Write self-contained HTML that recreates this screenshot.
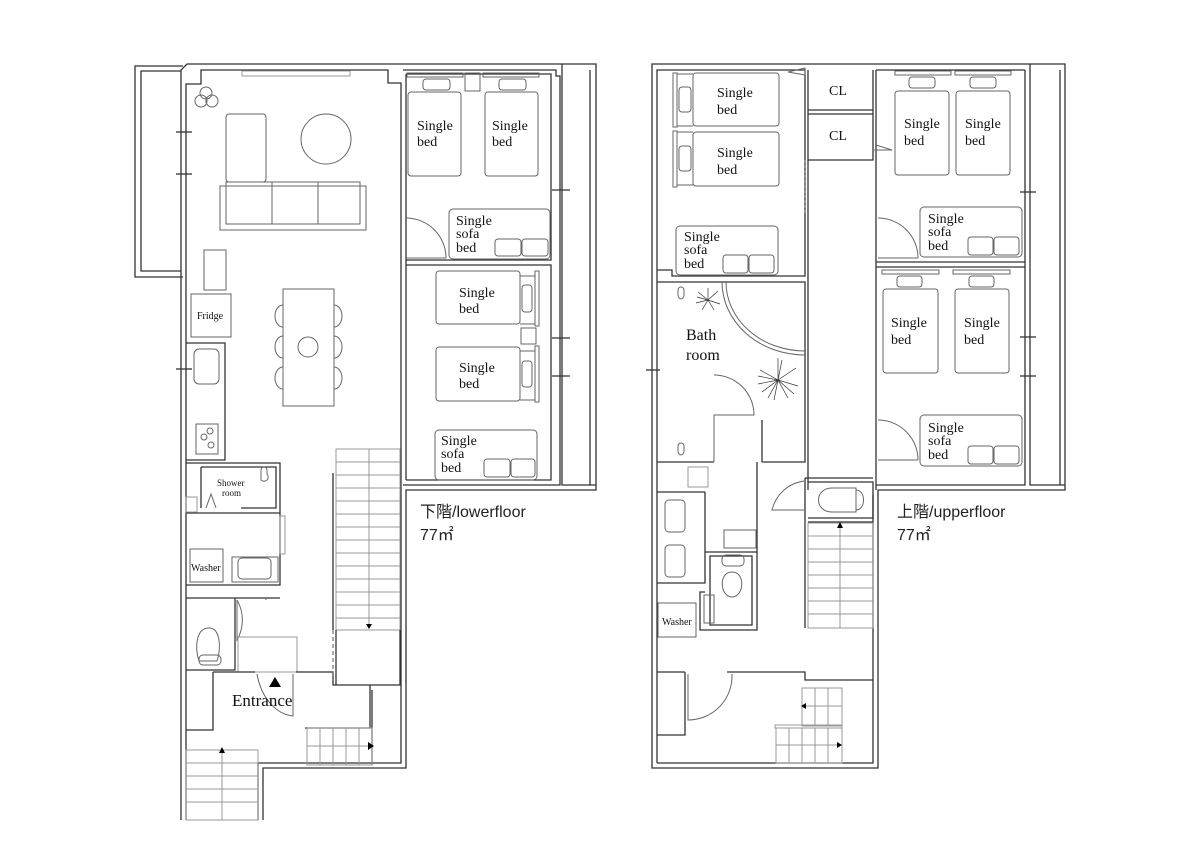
<!DOCTYPE html>
<html><head><meta charset="utf-8"><style>
html,body{margin:0;padding:0;background:#fff}
svg{display:block}
.w{fill:none;stroke:#333;stroke-width:1.3}
.f{fill:none;stroke:#666;stroke-width:1}
.g{fill:none;stroke:#999;stroke-width:1}
text{font-family:"Liberation Serif",serif;fill:#111}
.s{font-family:"Liberation Sans","Noto Sans CJK JP",sans-serif;font-size:16px;fill:#222}
</style></head><body>
<svg width="1200" height="849" viewBox="0 0 1200 849" xmlns="http://www.w3.org/2000/svg">
<!-- ================= LOWER FLOOR ================= -->
<!-- left balcony -->
<path class="w" d="M183,66 L135,66 L135,277 L183,277"/>
<path class="w" d="M181,71 L141,71 L141,271 L181,271"/>
<!-- outer -->
<path class="w" d="M181,820 L181,70 L187,64 L596,64 L596,490 L406,490 L406,768 L263,768 L263,820"/>
<path class="w" d="M186,820 L186,84 L201,84 L201,70 L388,70 L388,83 L401,83 L401,685"/>
<path class="w" d="M258,820 L258,763 L401,763 L401,685"/>
<!-- right balcony -->
<path class="w" d="M562,64 L562,485 L596,485"/>
<path class="w" d="M590,70 L590,485"/>
<!-- bedroom walls -->
<path class="w" d="M403,70 L556,70 L556,76 L560,76 L560,485 L403,485"/>
<path class="w" d="M406,74 L551,74 L551,260 L406,260 M406,265 L551,265 L551,480 L406,480"/>
<path class="w" d="M406,74 L406,480"/>
<line class="w" x1="552" y1="190" x2="570" y2="190"/>
<line class="w" x1="552" y1="338" x2="570" y2="338"/>
<line class="w" x1="552" y1="376" x2="570" y2="376"/>
<line class="w" x1="176" y1="132" x2="192" y2="132"/>
<line class="w" x1="176" y1="174" x2="192" y2="174"/>
<line class="w" x1="176" y1="369" x2="192" y2="369"/>
<!-- living furniture -->
<rect class="g" x="242" y="71" width="108" height="5"/>
<circle class="f" cx="206" cy="93" r="6"/><circle class="f" cx="201" cy="101" r="6"/><circle class="f" cx="212" cy="101" r="6"/>
<rect class="f" x="226" y="114" width="40" height="68" rx="3"/>
<circle class="f" cx="326" cy="139" r="25"/>
<rect class="f" x="220" y="186" width="146" height="44"/>
<path class="f" d="M226,182 H360 V224 H226 Z M272,182 V224 M318,182 V224"/>
<rect class="f" x="204" y="250" width="22" height="40"/>
<rect class="f" x="191" y="294" width="40" height="43"/>
<text x="197" y="319" font-size="10">Fridge</text>
<path class="w" d="M186,343 H225 V460 H186"/>
<rect class="f" x="194" y="349" width="25" height="35" rx="5"/>
<rect class="f" x="196" y="424" width="22" height="30"/>
<circle class="f" cx="210" cy="431" r="3"/><circle class="f" cx="204" cy="437" r="3"/><circle class="f" cx="211" cy="445" r="3"/>
<rect class="f" x="283" y="289" width="51" height="117"/>
<circle class="f" cx="308" cy="347" r="10"/>
<path class="f" d="M283,305 a8,11 0 0 0 0,22 M283,336 a8,11 0 0 0 0,22 M283,367 a8,11 0 0 0 0,22 M334,305 a8,11 0 0 1 0,22 M334,336 a8,11 0 0 1 0,22 M334,367 a8,11 0 0 1 0,22"/>
<!-- bedroom 1 -->
<rect class="f" x="407" y="73" width="56" height="4"/><rect class="f" x="483" y="73" width="56" height="4"/>
<rect class="f" x="465" y="73" width="15" height="18"/>
<rect class="f" x="423" y="79" width="27" height="11" rx="3"/><rect class="f" x="499" y="79" width="27" height="11" rx="3"/>
<rect class="f" x="408" y="92" width="53" height="84" rx="3"/><rect class="f" x="485" y="92" width="53" height="84" rx="3"/>
<text x="417" y="130" font-size="14">Single</text><text x="417" y="146" font-size="14">bed</text>
<text x="492" y="130" font-size="14">Single</text><text x="492" y="146" font-size="14">bed</text>
<rect class="f" x="449" y="209" width="101" height="50" rx="4"/>
<rect class="f" x="495" y="239" width="26" height="17" rx="3"/><rect class="f" x="522" y="239" width="26" height="17" rx="3"/>
<text x="456" y="225" font-size="14">Single</text><text x="456" y="238" font-size="14">sofa</text><text x="456" y="252" font-size="14">bed</text>
<path class="f" d="M406,218 A40,40 0 0 1 446,258 M406,258 H446"/>
<!-- bedroom 2 -->
<rect class="f" x="436" y="271" width="84" height="53" rx="3"/><rect class="f" x="436" y="347" width="84" height="54" rx="3"/>
<path class="f" d="M520,276 H535 V324 H520 M520,351 H535 V400 H520"/>
<rect class="f" x="535" y="271" width="4" height="55"/><rect class="f" x="535" y="346" width="4" height="56"/>
<rect class="f" x="522" y="285" width="10" height="27" rx="3"/><rect class="f" x="522" y="361" width="10" height="26" rx="3"/>
<rect class="f" x="521" y="328" width="15" height="16"/>
<text x="459" y="297" font-size="14">Single</text><text x="459" y="313" font-size="14">bed</text>
<text x="459" y="372" font-size="14">Single</text><text x="459" y="388" font-size="14">bed</text>
<rect class="f" x="435" y="430" width="102" height="50" rx="4"/>
<rect class="f" x="484" y="459" width="26" height="18" rx="3"/><rect class="f" x="511" y="459" width="24" height="18" rx="3"/>
<text x="441" y="445" font-size="14">Single</text><text x="441" y="458" font-size="14">sofa</text><text x="441" y="472" font-size="14">bed</text>
<!-- shower / wash -->
<path class="w" d="M186,463 H280 V513 M201,467 H276 V508 H241 M201,467 V508 M186,513 H280 V585 H186"/>
<rect class="g" x="186" y="497" width="11" height="15"/>
<path class="f" d="M206,508 L211,494 L216,508"/>
<text x="217" y="486" font-size="9">Shower</text><text x="222" y="496" font-size="9">room</text>
<path class="f" d="M261,470 a3,3 0 0 1 6,0 v4 a4,4 0 0 1 -6,6 Z"/>
<rect class="f" x="190" y="549" width="33" height="33"/>
<text x="191" y="571" font-size="10">Washer</text>
<rect class="f" x="232" y="557" width="46" height="25"/><rect class="f" x="238" y="558" width="33" height="21" rx="4"/>
<rect class="g" x="280" y="516" width="5" height="38"/>
<!-- toilet -->
<path class="w" d="M186,598 H280 M186,670 H235 V598"/>
<path class="f" d="M237,600 A40,40 0 0 1 237,640 L237,600 M266,600 V598"/>
<path class="f" d="M209,628 c-14,0 -14,22 -10,33 h18 c4,-11 4,-33 -8,-33 Z"/>
<rect class="f" x="199" y="655" width="22" height="10" rx="4"/>
<rect class="g" x="238" y="637" width="59" height="35"/>
<!-- entrance -->
<path class="w" d="M213,672 H255 M296,672 H333 V685 H401 M213,672 V730 H186"/>
<path class="f" d="M257,674 A40,55 0 0 0 293,716 V674"/>
<polygon points="275,677 269,687 281,687" fill="#000"/>
<text x="232" y="706" font-size="17">Entrance</text>
<!-- main stair -->
<g class="g">
<rect x="336" y="449" width="64" height="181"/>
<line x1="369" y1="449" x2="369" y2="626"/>
<path d="M336,462H400M336,475H400M336,488H400M336,501H400M336,514H400M336,527H400M336,540H400M336,553H400M336,566H400M336,579H400M336,592H400M336,605H400M336,618H400"/>
</g>
<line class="w" x1="333" y1="473" x2="333" y2="630"/>
<line x1="333" y1="630" x2="333" y2="680" stroke="#555" stroke-dasharray="4,3"/>
<polygon points="366,624 372,624 369,629" fill="#000"/>
<path class="w" d="M336,630 V685 M400,630 V685"/>
<!-- lower stairs -->
<path class="w" d="M305,728 H370 V685"/>
<line class="w" x1="372" y1="690" x2="372" y2="765"/>
<g class="g"><rect x="307" y="728" width="65" height="37"/><path d="M320,728V765M333,728V765M346,728V765M359,728V765M307,746H372"/></g>
<polygon points="368,742 368,750 374,746" fill="#000"/>
<g class="g"><rect x="186" y="750" width="72" height="70"/><path d="M186,763H258M186,776H258M186,789H258M186,802H258M222,750V820"/></g>
<polygon points="219,753 225,753 222,747" fill="#000"/>
<text class="s" x="420" y="517">下階/lowerfloor</text>
<text class="s" x="420" y="540">77㎡</text>

<!-- ================= UPPER FLOOR ================= -->
<path class="w" d="M652,768 L652,64 L1065,64 L1065,490 L878,490 L878,768 Z"/>
<path class="w" d="M657,763 L657,70 L672,70 M657,763 L873,763 L873,495"/>
<path class="w" d="M1030,64 V485 H1065 M1060,70 V485"/>
<!-- left bedroom -->
<path class="w" d="M672,70 H805 V276 H672 V270 H657 M657,282 H805 V462 H762 M714,462 H657"/>
<path class="w" d="M808,70 V160 H873 V110 H808 M808,114 H873 V156 M873,70 V110"/>
<line x1="805" y1="160" x2="805" y2="215" stroke="#666" stroke-dasharray="3,2"/>
<path class="w" d="M808,160 V490 M876,70 V490 M876,262 H1025 M876,267 H1025 M1025,70 V485 H876"/>
<line class="w" x1="876" y1="70" x2="1025" y2="70"/>
<line class="w" x1="646" y1="370" x2="660" y2="370"/>
<line class="w" x1="1020" y1="192" x2="1036" y2="192"/>
<line class="w" x1="1020" y1="337" x2="1036" y2="337"/>
<line class="w" x1="1020" y1="376" x2="1036" y2="376"/>
<rect class="f" x="673" y="73" width="4" height="54"/><rect class="f" x="673" y="131" width="4" height="56"/>
<rect class="f" x="679" y="87" width="12" height="25" rx="3"/><rect class="f" x="679" y="146" width="12" height="25" rx="3"/>
<rect class="f" x="693" y="73" width="86" height="53" rx="3"/><rect class="f" x="693" y="132" width="86" height="54" rx="3"/>
<path class="f" d="M677,74 H693 M677,126 H693 M677,132 H693 M677,185 H693"/>
<text x="717" y="97" font-size="14">Single</text><text x="717" y="114" font-size="14">bed</text>
<text x="717" y="157" font-size="14">Single</text><text x="717" y="174" font-size="14">bed</text>
<rect class="f" x="676" y="226" width="102" height="49" rx="4"/>
<rect class="f" x="723" y="255" width="25" height="18" rx="3"/><rect class="f" x="749" y="255" width="25" height="18" rx="3"/>
<text x="684" y="241" font-size="14">Single</text><text x="684" y="254" font-size="14">sofa</text><text x="684" y="268" font-size="14">bed</text>
<path class="f" d="M788,72 L805,75 L805,68 Z M874,150 L892,150 L876,145"/>
<text x="829" y="95" font-size="14">CL</text><text x="829" y="140" font-size="14">CL</text>
<!-- bath -->
<path class="f" d="M722,282 A83,73 0 0 0 805,355 M726,282 A79,69 0 0 0 805,351"/>
<text x="686" y="340" font-size="16">Bath</text><text x="686" y="360" font-size="16">room</text>
<g stroke="#333" stroke-width="0.7"><path d="M708,300 l-10,-8 M708,300 l10,-9 M708,300 l-12,3 M708,300 l12,4 M708,300 l-6,10 M708,300 l6,10 M708,300 l0,-12 M708,300 l-11,-3"/><path d="M778,380 l-18,-10 M778,380 l18,-12 M778,380 l-20,4 M778,380 l20,6 M778,380 l-10,18 M778,380 l10,18 M778,380 l0,-22 M778,380 l-16,12 M778,380 l16,14 M778,380 l-4,20 M778,380 l4,-20 M778,380 l-20,-4"/></g>
<path class="f" d="M678,290 a3,3 0 0 1 6,0 v5 a3,4 0 0 1 -6,0 Z M678,446 a3,3 0 0 1 6,0 v5 a3,4 0 0 1 -6,0 Z"/>
<path class="f" d="M714,375 A40,40 0 0 1 754,415 H714 V462"/>
<!-- right bedrooms -->
<rect class="f" x="895" y="71" width="56" height="4"/><rect class="f" x="955" y="71" width="56" height="4"/>
<rect class="f" x="909" y="77" width="26" height="11" rx="3"/><rect class="f" x="970" y="77" width="26" height="11" rx="3"/>
<rect class="f" x="895" y="91" width="54" height="84" rx="3"/><rect class="f" x="956" y="91" width="54" height="84" rx="3"/>
<text x="904" y="128" font-size="14">Single</text><text x="904" y="145" font-size="14">bed</text>
<text x="965" y="128" font-size="14">Single</text><text x="965" y="145" font-size="14">bed</text>
<rect class="f" x="920" y="207" width="102" height="50" rx="4"/>
<rect class="f" x="968" y="237" width="25" height="18" rx="3"/><rect class="f" x="994" y="237" width="25" height="18" rx="3"/>
<text x="928" y="223" font-size="14">Single</text><text x="928" y="236" font-size="14">sofa</text><text x="928" y="250" font-size="14">bed</text>
<path class="f" d="M878,218 A40,40 0 0 1 918,258 M878,258 H918"/>
<rect class="f" x="882" y="270" width="57" height="4"/><rect class="f" x="953" y="270" width="57" height="4"/>
<rect class="f" x="897" y="276" width="25" height="11" rx="3"/><rect class="f" x="969" y="276" width="25" height="11" rx="3"/>
<rect class="f" x="883" y="289" width="55" height="84" rx="3"/><rect class="f" x="955" y="289" width="54" height="84" rx="3"/>
<text x="891" y="327" font-size="14">Single</text><text x="891" y="344" font-size="14">bed</text>
<text x="964" y="327" font-size="14">Single</text><text x="964" y="344" font-size="14">bed</text>
<rect class="f" x="920" y="415" width="102" height="51" rx="4"/>
<rect class="f" x="968" y="446" width="25" height="18" rx="3"/><rect class="f" x="994" y="446" width="25" height="18" rx="3"/>
<text x="928" y="432" font-size="14">Single</text><text x="928" y="445" font-size="14">sofa</text><text x="928" y="459" font-size="14">bed</text>
<path class="f" d="M878,420 A40,40 0 0 1 918,460 M878,460 H918"/>
<!-- upper lower area -->
<path class="w" d="M757,462 V630 H700 V592 H705 M762,420 V462 M705,492 H657 M705,492 V583 H657"/>
<rect class="f" x="665" y="500" width="20" height="32" rx="4"/><rect class="f" x="665" y="545" width="20" height="32" rx="4"/>
<path class="w" d="M705,552 H757 M710,556 H752 V625 H710 Z"/>
<rect class="f" x="724" y="530" width="32" height="18"/>
<path class="f" d="M732,572 c-14,0 -12,25 0,25 c12,0 14,-25 0,-25 Z"/><rect class="f" x="722" y="555" width="22" height="11" rx="4"/>
<rect class="f" x="704" y="595" width="10" height="28"/>
<rect class="f" x="658" y="603" width="38" height="34"/>
<text x="662" y="625" font-size="10">Washer</text>
<rect class="g" x="688" y="467" width="20" height="20"/>
<path class="w" d="M805,478 V518 M805,478 H873 M808,482 H873 V518 H808 M808,522 H873 M805,518 V628"/>
<path class="f" d="M804,481 A38,38 0 0 0 772,510 H804"/>
<path class="f" d="M832,488 c-18,0 -18,24 0,24 H856 V488 Z M856,490 c10,0 10,20 0,20"/>
<g class="g"><rect x="808" y="523" width="65" height="105"/><path d="M808,536H873M808,549H873M808,562H873M808,575H873M808,588H873M808,601H873M808,614H873M840,525V628"/></g>
<polygon points="837,528 843,528 840,522" fill="#000"/>
<path class="w" d="M657,672 H685 M727,672 H805 V680 H873"/>
<path class="w" d="M685,672 V735 H657"/>
<path class="f" d="M688,674 V720 A44,44 0 0 0 732,674"/>
<g class="g"><rect x="802" y="688" width="40" height="38"/><path d="M815,688V726M828,688V726M802,706H842"/></g>
<rect class="g" x="775" y="725" width="67" height="3"/>
<g class="g"><rect x="776" y="728" width="66" height="35"/><path d="M789,728V763M802,728V763M815,728V763M828,728V763M776,745H842"/></g>
<polygon points="806,703 806,709 801,706" fill="#000"/>
<polygon points="837,742 837,748 842,745" fill="#000"/>
<text class="s" x="897" y="517">上階/upperfloor</text>
<text class="s" x="897" y="540">77㎡</text>
</svg>
</body></html>
